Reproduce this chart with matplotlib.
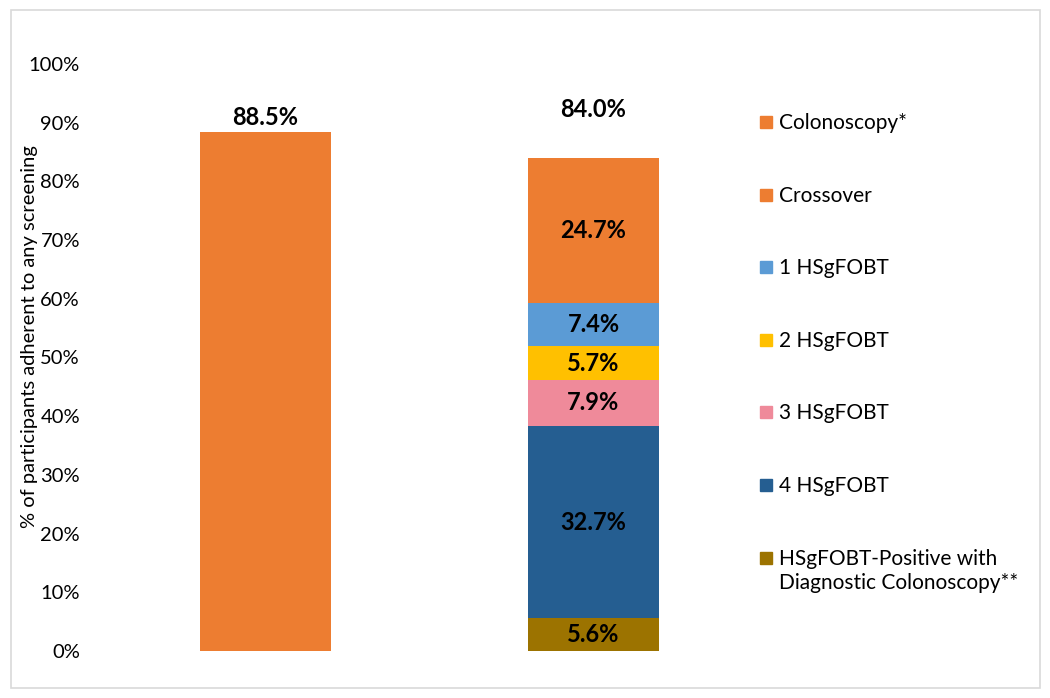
import matplotlib
matplotlib.use("Agg")
import matplotlib.pyplot as plt
from matplotlib.patches import Rectangle

plt.rcParams['font.family'] = ['Lato', 'DejaVu Sans']

# ---- data ----
bars = ["Colonoscopy", "HSgFOBT"]
colonoscopy = [88.5, 0]
segment_names = ["HSgFOBT-Positive with\nDiagnostic Colonoscopy**", "4 HSgFOBT", "3 HSgFOBT",
                 "2 HSgFOBT", "1 HSgFOBT", "Crossover"]
segment_values = [5.6, 32.7, 7.9, 5.7, 7.4, 24.7]
segment_colors = ["#9C7300", "#255E91", "#EF8A9A", "#FFC000", "#5B9BD5", "#ED7D31"]
colonoscopy_color = "#ED7D31"
total_labels = ["88.5%", "84.0%"]
yticks = list(range(0, 101, 10))

fig = plt.figure(figsize=(10.5, 6.98), dpi=100)
ax = fig.add_axes([101.5 / 1050, 47 / 698, 656 / 1050, 587 / 698])

x = list(range(len(bars)))
width = 0.4
ax.bar(x[0], colonoscopy[0], width=width, color=colonoscopy_color)

bottom = 0
for name, val, col in zip(segment_names, segment_values, segment_colors):
    ax.bar(x[1], val, width=width, bottom=bottom, color=col)
    ax.text(x[1], bottom + val / 2, f"{val:.1f}%", ha='center', va='center',
            fontsize=17, fontweight='bold', color='black')
    bottom += val

# totals
ax.text(x[0], colonoscopy[0] + 0.4, total_labels[0], ha='center', va='bottom',
        fontsize=17, fontweight='bold')
ax.text(x[1], 92.3, total_labels[1], ha='center', va='center',
        fontsize=17, fontweight='bold')

ax.set_xlim(-0.5, 1.5)
ax.set_ylim(0, 100)
ax.set_yticks(yticks)
ax.set_yticklabels([f"{t}%" for t in yticks], fontsize=14.5)
ax.tick_params(axis='y', length=0, pad=15.5)
ax.set_xticks([])
for s in ax.spines.values():
    s.set_visible(False)
ax.set_ylabel("% of participants adherent to any screening", fontsize=14.5)
ax.yaxis.set_label_coords(-63 / 656, (651 - 337) / 587)

# legend (manual, top to bottom)
legend_names = ["Colonoscopy*"] + segment_names[::-1]
legend_colors = [colonoscopy_color] + segment_colors[::-1]
W, H = 1050, 698
for i, (name, col) in enumerate(zip(legend_names, legend_colors)):
    yc = 122 + i * 72.6
    fig.patches.append(Rectangle((760 / W, 1 - (yc + 6) / H), 12 / W, 12 / H,
                                 transform=fig.transFigure, color=col))
    fig.text(779 / W, 1 - (yc - 9) / H, name, ha='left', va='top', fontsize=15,
             linespacing=1.3)

# outer frame
fig.patches.append(Rectangle((11 / W, 1 - 688 / H), 1029 / W, 678 / H,
                             transform=fig.transFigure, fill=False,
                             edgecolor='#D9D9D9', linewidth=1.2))

fig.savefig("out.png", dpi=100)
